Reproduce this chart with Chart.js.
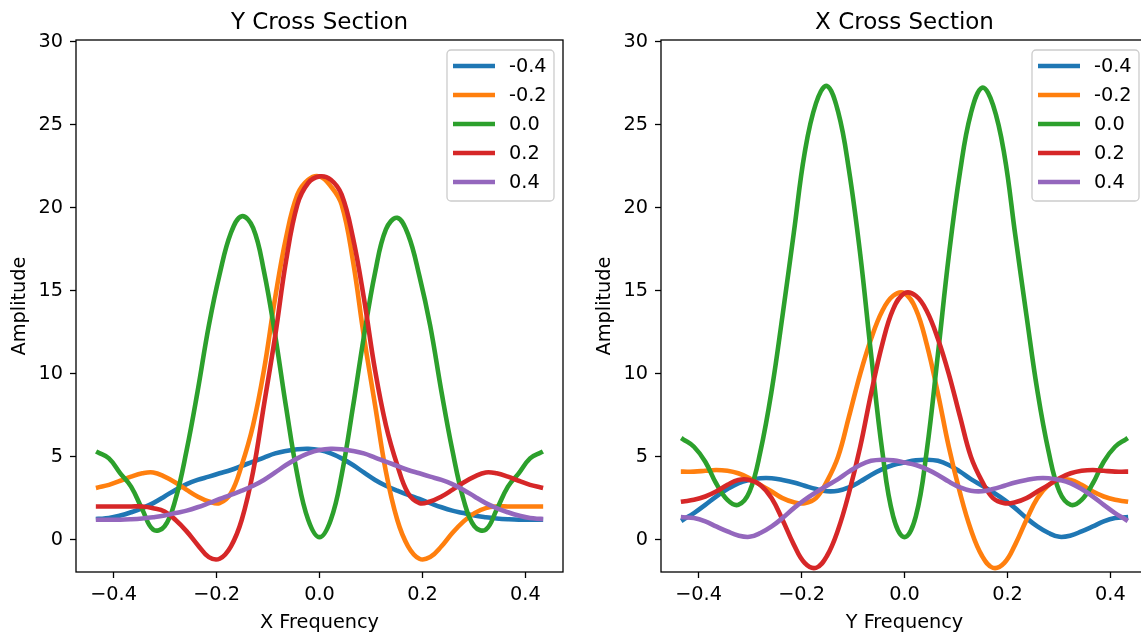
<!DOCTYPE html>
<html>
<head>
<meta charset="utf-8">
<script src="https://cdn.jsdelivr.net/npm/chart.js@4.4.1/dist/chart.umd.min.js"></script>
<style>
  html, body { margin: 0; padding: 0; background: #fff; overflow: hidden; width: 1141px; height: 633px; }
  canvas { position: absolute; top: 0; }
  #yCross { left: 0; }
  #xCross { left: 585px; }
</style>
</head>
<body>
<canvas id="yCross" width="580" height="633"></canvas>
<canvas id="xCross" width="580" height="633"></canvas>
<script>
// Frequency grid (shared x values)
const freq = [-0.43, -0.409, -0.387, -0.366, -0.344, -0.323, -0.301, -0.28, -0.258, -0.237, -0.215,
  -0.194, -0.172, -0.151, -0.129, -0.108, -0.086, -0.065, -0.043, -0.022, 0,
  0.022, 0.043, 0.065, 0.086, 0.108, 0.129, 0.151, 0.172, 0.194, 0.215,
  0.237, 0.258, 0.28, 0.301, 0.323, 0.344, 0.366, 0.387, 0.409, 0.43];

const seriesLabels = ["-0.4", "-0.2", "0.0", "0.2", "0.4"];
const seriesColors = ["#1f77b4", "#ff7f0e", "#2ca02c", "#d62728", "#9467bd"];

const xTickValues = [-0.4, -0.2, 0, 0.2, 0.4];
const xTickLabels = ["\u22120.4", "\u22120.2", "0.0", "0.2", "0.4"];
const yTickValues = [0, 5, 10, 15, 20, 25, 30];
const yTickLabels = ["0", "5", "10", "15", "20", "25", "30"];

// Y Cross Section (left)
const ySecM04 = [1.25, 1.3, 1.45, 1.65, 1.9, 2.2, 2.6, 3.0, 3.35, 3.6, 3.8, 4.0, 4.2, 4.45, 4.7, 4.95, 5.2, 5.35, 5.45, 5.48, 5.4,
  5.2, 4.9, 4.5, 4.05, 3.6, 3.25, 2.95, 2.7, 2.45, 2.2, 1.95, 1.75, 1.6, 1.45, 1.35, 1.28, 1.23, 1.2, 1.2, 1.2];
const ySecM02 = [3.15, 3.3, 3.55, 3.8, 4.0, 4.05, 3.8, 3.45, 3.0, 2.6, 2.3, 2.2, 2.8, 4.5, 6.9, 10.2, 14.6, 18.2, 20.8, 21.7, 21.9,
  21.3, 20.2, 16.8, 12.3, 8.1, 4.1, 1.2, -0.4, -1.15, -1.05, -0.4, 0.4, 1.1, 1.6, 1.9, 2.0, 2.0, 2.0, 2.0, 2.0];
const ySec00 = [5.25, 4.9, 4.0, 3.2, 1.8, 0.6, 0.8, 2.4, 5.4, 8.9, 12.9, 16.0, 18.5, 19.5, 18.8, 16.2, 12.3, 8.0, 3.9, 1.2, 0.15,
  1.2, 3.9, 8.0, 12.2, 16.1, 18.7, 19.4, 18.4, 15.9, 12.9, 8.9, 5.4, 2.4, 0.8, 0.6, 1.8, 3.2, 4.0, 4.9, 5.25];
const ySecP02 = [2.0, 2.0, 2.0, 2.0, 2.0, 1.9, 1.7, 1.2, 0.5, -0.3, -1.05, -1.15, -0.4, 1.2, 4.1, 8.1, 12.3, 16.8, 20.2, 21.5, 21.9,
  21.7, 20.8, 18.2, 14.6, 10.2, 6.9, 4.5, 2.8, 2.2, 2.3, 2.6, 3.0, 3.45, 3.8, 4.05, 4.0, 3.8, 3.55, 3.3, 3.15];
const ySecP04 = [1.2, 1.2, 1.2, 1.23, 1.28, 1.35, 1.45, 1.6, 1.75, 1.95, 2.2, 2.45, 2.7, 2.95, 3.25, 3.6, 4.05, 4.5, 4.9, 5.2, 5.4,
  5.48, 5.45, 5.35, 5.2, 4.95, 4.7, 4.45, 4.2, 4.0, 3.8, 3.6, 3.35, 3.0, 2.6, 2.2, 1.9, 1.65, 1.45, 1.3, 1.25];

// X Cross Section (right)
const xSecM04 = [1.2, 1.6, 2.1, 2.6, 3.05, 3.4, 3.6, 3.7, 3.7, 3.6, 3.45, 3.25, 3.05, 2.92, 2.95, 3.15, 3.5, 3.9, 4.25, 4.5, 4.65,
  4.78, 4.82, 4.75, 4.5, 4.1, 3.65, 3.25, 2.85, 2.4, 1.9, 1.3, 0.8, 0.4, 0.17, 0.25, 0.5, 0.8, 1.1, 1.3, 1.35];
const xSecM02 = [4.1, 4.1, 4.15, 4.2, 4.15, 4.0, 3.7, 3.3, 2.9, 2.5, 2.25, 2.2, 2.5, 3.5, 5.0, 7.4, 10.0, 12.1, 13.8, 14.7, 14.85,
  13.9, 11.8, 8.8, 5.6, 2.8, 0.6, -1.0, -1.7, -1.4, -0.3, 1.2, 2.5, 3.3, 3.6, 3.6, 3.3, 2.9, 2.6, 2.4, 2.3];
const xSec00 = [6.05, 5.6, 4.7, 3.4, 2.4, 2.1, 2.9, 5.3, 9.0, 13.5, 18.5, 23.3, 26.3, 27.35, 25.8, 22.3, 17.2, 11.2, 5.3, 1.4, 0.15,
  1.4, 5.3, 11.2, 17.1, 22.2, 25.7, 27.25, 26.2, 23.2, 18.4, 13.5, 9.0, 5.3, 2.9, 2.1, 2.4, 3.4, 4.7, 5.6, 6.05];
const xSecP02 = [2.3, 2.4, 2.6, 2.9, 3.3, 3.6, 3.6, 3.3, 2.5, 1.2, -0.3, -1.4, -1.7, -1.0, 0.6, 2.8, 5.6, 8.8, 11.8, 13.9, 14.85,
  14.7, 13.8, 12.1, 10.0, 7.4, 5.0, 3.5, 2.5, 2.2, 2.25, 2.5, 2.9, 3.3, 3.7, 4.0, 4.15, 4.2, 4.15, 4.1, 4.1];
const xSecP04 = [1.35, 1.3, 1.1, 0.8, 0.5, 0.25, 0.17, 0.4, 0.8, 1.3, 1.9, 2.4, 2.85, 3.25, 3.65, 4.1, 4.5, 4.75, 4.82, 4.78, 4.65,
  4.5, 4.25, 3.9, 3.5, 3.15, 2.95, 2.92, 3.05, 3.25, 3.45, 3.6, 3.7, 3.7, 3.6, 3.4, 3.05, 2.6, 2.1, 1.6, 1.2];

Chart.defaults.font.family = "'DejaVu Sans', sans-serif";
Chart.defaults.color = "#000";

// title over the plot area, axes frame, matplotlib style legend box
const frameAndLegend = {
  id: "frameAndLegend",
  afterDraw(chart, args, opts) {
    const { ctx, chartArea } = chart;
    ctx.save();
    ctx.fillStyle = "#000";
    ctx.font = "23px 'DejaVu Sans'";
    ctx.textAlign = "center";
    ctx.textBaseline = "alphabetic";
    ctx.fillText(opts.title, (chartArea.left + chartArea.right) / 2, 29);

    ctx.strokeStyle = "#000";
    ctx.lineWidth = 1.3;
    ctx.strokeRect(chartArea.left, chartArea.top, chartArea.right - chartArea.left, chartArea.bottom - chartArea.top);

    const w = 107, h = 151;
    const x0 = chartArea.right - 9 - w;
    const y0 = chartArea.top + 10;
    ctx.beginPath();
    ctx.roundRect(x0, y0, w, h, 4);
    ctx.fillStyle = "rgba(255,255,255,0.8)";
    ctx.fill();
    ctx.strokeStyle = "#cccccc";
    ctx.lineWidth = 1.3;
    ctx.stroke();

    ctx.font = "19.3px 'DejaVu Sans'";
    ctx.textAlign = "left";
    ctx.textBaseline = "middle";
    chart.data.datasets.forEach((ds, i) => {
      const y = y0 + 16 + i * 29;
      ctx.beginPath();
      ctx.moveTo(x0 + 6, y);
      ctx.lineTo(x0 + 48, y);
      ctx.strokeStyle = ds.borderColor;
      ctx.lineWidth = 4.6;
      ctx.stroke();
      ctx.fillStyle = "#000";
      ctx.fillText(ds.label, x0 + 62, y + 1);
    });
    ctx.restore();
  }
};

function makeChart(id, title, xTitle, series) {
  const ctx = document.getElementById(id).getContext("2d");
  return new Chart(ctx, {
    type: "line",
    data: {
      datasets: series.map((vals, i) => ({
        label: seriesLabels[i],
        data: freq.map((f, j) => ({ x: f, y: vals[j] })),
        borderColor: seriesColors[i],
        backgroundColor: seriesColors[i],
        borderWidth: 4.6,
        borderCapStyle: "square",
        pointRadius: 0,
        fill: false,
        tension: 0.4,
        order: series.length - i
      }))
    },
    options: {
      responsive: false,
      animation: false,
      devicePixelRatio: 1,
      layout: { padding: { left: 0, right: 17, top: 40, bottom: 0 } },
      plugins: {
        legend: { display: false },
        tooltip: { enabled: false },
        title: { display: false },
        frameAndLegend: { title: title }
      },
      scales: {
        x: {
          type: "linear",
          min: -0.473,
          max: 0.473,
          afterBuildTicks: (s) => { s.ticks = xTickValues.map(v => ({ value: v })); },
          afterFit: (s) => { s.height = 61; },
          ticks: {
            color: "#000",
            font: { size: 19.3 },
            padding: 5,
            maxRotation: 0,
            callback: (v, i) => xTickLabels[i]
          },
          grid: { display: true, drawOnChartArea: false, drawTicks: true, tickLength: 6, tickColor: "#000", tickWidth: 1.3 },
          border: { display: false },
          title: { display: true, text: xTitle, color: "#000", font: { size: 19.3, lineHeight: 1.0 }, padding: { top: 0, bottom: 0 } }
        },
        y: {
          type: "linear",
          min: -1.95,
          max: 30.12,
          afterBuildTicks: (s) => { s.ticks = yTickValues.map(v => ({ value: v })); },
          afterFit: (s) => { s.width = 76; },
          ticks: {
            color: "#000",
            font: { size: 19.3 },
            padding: 7,
            callback: (v, i) => yTickLabels[i]
          },
          grid: { display: true, drawOnChartArea: false, drawTicks: true, tickLength: 6, tickColor: "#000", tickWidth: 1.3 },
          border: { display: false },
          title: { display: true, text: "Amplitude", color: "#000", font: { size: 19.3, lineHeight: 1.2 }, padding: { top: 8, bottom: 0 } }
        }
      }
    },
    plugins: [frameAndLegend]
  });
}

makeChart("yCross", "Y Cross Section", "X Frequency", [ySecM04, ySecM02, ySec00, ySecP02, ySecP04]);
makeChart("xCross", "X Cross Section", "Y Frequency", [xSecM04, xSecM02, xSec00, xSecP02, xSecP04]);
</script>
</body>
</html>
